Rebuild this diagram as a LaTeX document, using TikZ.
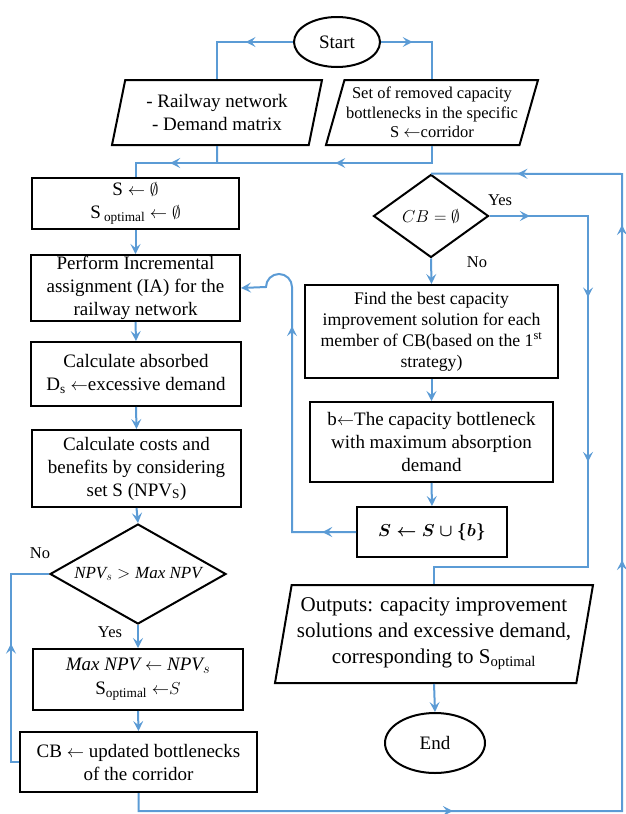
\documentclass[tikz,border=0pt]{standalone}
\usepackage{amsmath,amssymb}
\usepackage{fontspec}
\setmainfont{Liberation Serif}
\usetikzlibrary{arrows.meta,shapes.geometric,decorations.markings}

\definecolor{flowblue}{RGB}{91,155,213}

\tikzset{
    flowtip/.tip={Stealth[length=10pt,width=10pt,inset=4pt]},
    base/.style={draw=black,line width=2pt,align=center,inner sep=0pt,
        font=\fontsize{19}{23}\selectfont},
    process/.style={base,rectangle},
    decision/.style={base,diamond},
    io/.style={base,trapezium,trapezium left angle=70,trapezium right angle=110,
        trapezium stretches body},
    terminal/.style={base,ellipse},
    connector/.style={draw=flowblue,line width=2pt},
    midtips/.style={postaction={decorate,decoration={markings,
        mark=at position #1 with {\arrow[flowblue]{flowtip}}}}},
    lbl/.style={font=\fontsize{16.5}{19}\selectfont}
}

\begin{document}
\begin{tikzpicture}[x=1pt,y=-1pt]
        \useasboundingbox (0,0) rectangle (626,814);

        % top
        \node[terminal,minimum width=86pt,minimum height=50pt] (start) at (337,42) {Start};
        \node[io,minimum width=210pt,minimum height=65pt] (input) at (217,112.5)
            {- Railway network\\- Demand matrix};
        \node[io,minimum width=212pt,minimum height=65pt,
            font=\fontsize{16.5}{19.5}\selectfont] (setc) at (432,112.5)
            {Set of removed capacity\\bottlenecks in the specific\\S $\leftarrow$corridor};

        % left column
        \node[process,minimum width=207pt,minimum height=51pt] (init) at (135.5,203.5)
            {S $\leftarrow\emptyset$\\S\,\textsubscript{optimal} $\leftarrow\emptyset$};
        \node[process,minimum width=209pt,minimum height=66pt] (perform) at (135.5,288)
            {Perform Incremental\\assignment (IA) for the\\railway network};
        \node[process,minimum width=210pt,minimum height=64pt] (absorbed) at (136,374)
            {Calculate absorbed\\D\textsubscript{s} $\leftarrow$excessive demand};
        \node[process,minimum width=209pt,minimum height=77pt] (costs) at (136.5,468.5)
            {Calculate costs and\\benefits by considering\\set S (NPV\textsubscript{S})};
        \node[decision,minimum width=176pt,minimum height=100pt,aspect=1.76,
            font=\fontsize{17}{20}\selectfont] (npv) at (138,574)
            {$\mathit{NPV}_{s} > \mathit{Max\ NPV}$};
        \node[process,minimum width=210pt,minimum height=61pt] (maxnpv) at (138,679.5)
            {$\mathit{Max\ NPV} \leftarrow \mathit{NPV}_{s}$\\[1pt]S\textsubscript{optimal} $\leftarrow$$S$};
        \node[process,minimum width=237pt,minimum height=60pt] (cbup) at (138.5,762)
            {CB $\leftarrow$ updated bottlenecks\\of the corridor};

        % right column
        \node[decision,minimum width=115pt,minimum height=83pt,aspect=1.39] (cbempty) at (431,216)
            {$CB = \emptyset$};
        \node[process,minimum width=253pt,minimum height=93pt,
            font=\fontsize{17.7}{21}\selectfont] (best) at (431.5,331.5)
            {Find the best capacity\\improvement solution for each\\member of CB(based on the 1\textsuperscript{st}\\strategy)};
        \node[process,minimum width=243pt,minimum height=80pt] (bneck) at (431.5,442)
            {b$\leftarrow$The capacity bottleneck\\with maximum absorption\\demand};
        \node[process,minimum width=150pt,minimum height=50pt] (union) at (432,532)
            {$\boldsymbol{S \leftarrow S \cup \{b\}}$};
        \node[io,minimum width=318pt,minimum height=98pt,trapezium left angle=77,
            trapezium right angle=103,font=\fontsize{21}{26}\selectfont] (out) at (434,634)
            {Outputs: capacity improvement\\solutions and excessive demand,\\corresponding to S\textsubscript{optimal}};
        \node[terminal,minimum width=100pt,minimum height=60pt] (finish) at (435,743) {End};

        % labels
        \node[lbl] (yesr) at (500,200) {Yes};
        \node[lbl] (nor) at (477,262) {No};
        \node[lbl] (nol) at (40,553) {No};
        \node[lbl] (yesl) at (110,632) {Yes};

        % connectors
        \coordinate (merge) at (217,163);
        \draw[connector,midtips=0.42] (start.west) -| (input.north);
        \draw[connector,midtips=0.36] (start.east) -| (setc.north);
        \draw[connector] (input.south) -- (merge);
        \draw[connector,midtips=0.49] (setc.south) |- (merge);
        \draw[connector,midtips=0.49] (merge) -| (init.north);

        \draw[connector,-{flowtip}] (init.south) -- (perform.north);
        \draw[connector,-{flowtip}] (perform.south) -- (absorbed.north);
        \draw[connector,-{flowtip}] (absorbed.south) -- (costs.north);
        \draw[connector,-{flowtip}] (costs.south) -- (npv.north);
        \draw[connector,-{flowtip}] (npv.south) -- (maxnpv.north);
        \draw[connector,-{flowtip}] (maxnpv.south) -- (cbup.north);
        \draw[connector,midtips=0.54] (cbup.west) -- ++(-8,0) |- (npv.west);
        \draw[connector,midtips=0.25,midtips=0.566,midtips=0.818,midtips=0.935]
            (cbup.south) -- ++(0,18) -| (622,174) -- (cbempty.north);

        \draw[connector,-{flowtip}] (cbempty.south) -- (best.north);
        \draw[connector,-{flowtip}] (best.south) -- (bneck.north);
        \draw[connector,-{flowtip}] (bneck.south) -- (union.north);
        \draw[connector,midtips=0.09,midtips=0.72,-{flowtip}] (union.west) -- (292,532)
            -- (292,287) arc[start angle=0,end angle=-180,radius=13] -- (perform.east);
        \draw[connector,midtips=0.065,midtips=0.29,midtips=0.555]
            (cbempty.east) -- (588,216) -- (588,567) -| (out.north);
        \draw[connector,-{flowtip}] (out.south) -- (finish.north);
    \end{tikzpicture}
\end{document}
